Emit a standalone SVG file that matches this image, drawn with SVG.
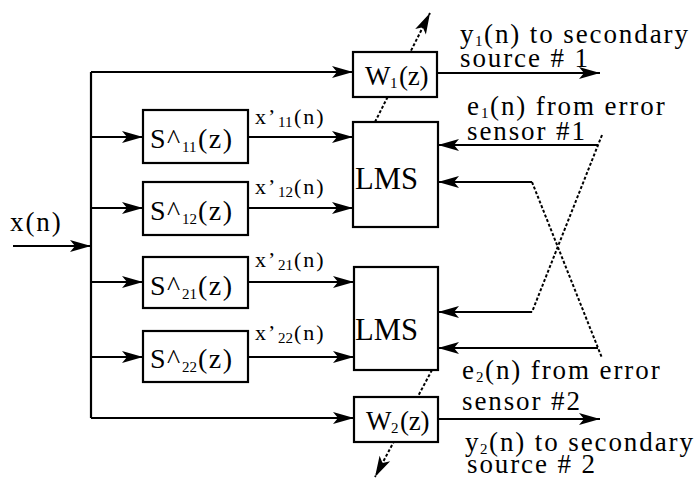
<svg xmlns="http://www.w3.org/2000/svg" width="697" height="479" viewBox="0 0 697 479">
<style>
text{font-family:"Liberation Serif","Times New Roman",serif;fill:#000}
.lbl{font-size:27px;letter-spacing:1.9px}
.sl{font-size:28px;letter-spacing:1.5px}
.xl{font-size:22px;letter-spacing:2px}
.wl{font-size:27px;letter-spacing:-0.3px}
.box{fill:#fff;stroke:#000;stroke-width:2.2}
.ln{fill:none;stroke:#000;stroke-width:2.2}
.dot{fill:none;stroke:#000;stroke-width:2;stroke-dasharray:3 2}
.sub{font-size:15px}
</style>
<defs>
<marker id="ah" markerUnits="userSpaceOnUse" markerWidth="22" markerHeight="14" refX="21" refY="7" orient="auto" overflow="visible">
<path d="M0,1 L21,7 L0,13 L5,7 z" fill="#000"/>
</marker>
</defs>
<rect width="697" height="479" fill="#fff"/>
<g id="connectors">
<line class="ln" x1="13" y1="246" x2="91" y2="246" marker-end="url(#ah)"/>
<line class="ln" x1="91" y1="72" x2="91" y2="418"/>
<line class="ln" x1="91" y1="72" x2="353" y2="72" marker-end="url(#ah)"/>
<line class="ln" x1="91" y1="137" x2="143" y2="137" marker-end="url(#ah)"/>
<line class="ln" x1="91" y1="208" x2="143" y2="208" marker-end="url(#ah)"/>
<line class="ln" x1="91" y1="282" x2="143" y2="282" marker-end="url(#ah)"/>
<line class="ln" x1="91" y1="357" x2="143" y2="357" marker-end="url(#ah)"/>
<line class="ln" x1="91" y1="418" x2="354" y2="418" marker-end="url(#ah)"/>
<line class="ln" x1="248" y1="137" x2="353" y2="137" marker-end="url(#ah)"/>
<line class="ln" x1="248" y1="208" x2="353" y2="208" marker-end="url(#ah)"/>
<line class="ln" x1="248" y1="282" x2="354" y2="282" marker-end="url(#ah)"/>
<line class="ln" x1="248" y1="357" x2="354" y2="357" marker-end="url(#ah)"/>
<line class="ln" x1="437" y1="73" x2="600" y2="73" marker-end="url(#ah)"/>
<line class="ln" x1="438" y1="419" x2="600" y2="419" marker-end="url(#ah)"/>
<line class="ln" x1="598" y1="145" x2="438" y2="145" marker-end="url(#ah)"/>
<line class="ln" x1="532" y1="182" x2="438" y2="182" marker-end="url(#ah)"/>
<line class="ln" x1="532" y1="312" x2="438" y2="312" marker-end="url(#ah)"/>
<line class="ln" x1="598" y1="348" x2="438" y2="348" marker-end="url(#ah)"/>
<line class="dot" x1="602" y1="135" x2="532" y2="312"/>
<line class="dot" x1="532" y1="182" x2="602" y2="358"/>
<line class="dot" x1="375" y1="122" x2="430" y2="13" marker-end="url(#ah)"/>
<line class="dot" x1="432" y1="370" x2="375" y2="477" marker-end="url(#ah)"/>
</g>
<g id="xn"><text class="lbl" x="10" y="231">x(n)</text></g>
<g id="s11"><rect class="box" x="143" y="110" width="105" height="53"/>
<text class="sl" x="150" y="148">S^</text><text class="sub" x="182" y="152">11</text><text class="sl" x="198" y="148">(z)</text></g>
<g id="s12"><rect class="box" x="143" y="182" width="105" height="53"/>
<text class="sl" x="150" y="220">S^</text><text class="sub" x="182" y="224">12</text><text class="sl" x="198" y="220">(z)</text></g>
<g id="s21"><rect class="box" x="143" y="257" width="105" height="51"/>
<text class="sl" x="150" y="295">S^</text><text class="sub" x="182" y="299">21</text><text class="sl" x="198" y="295">(z)</text></g>
<g id="s22"><rect class="box" x="143" y="331" width="105" height="51"/>
<text class="sl" x="150" y="368">S^</text><text class="sub" x="182" y="372">22</text><text class="sl" x="198" y="368">(z)</text></g>
<g id="xlabels">
<text class="xl" x="255" y="124">x’</text><text class="sub" x="278" y="127">11</text><text class="xl" x="294" y="124">(n)</text>
<text class="xl" x="255" y="194">x’</text><text class="sub" x="278" y="197">12</text><text class="xl" x="294" y="194">(n)</text>
<text class="xl" x="255" y="267">x’</text><text class="sub" x="278" y="270">21</text><text class="xl" x="294" y="267">(n)</text>
<text class="xl" x="255" y="340">x’</text><text class="sub" x="278" y="343">22</text><text class="xl" x="294" y="340">(n)</text>
</g>
<g id="w1"><rect class="box" x="353" y="52" width="84" height="45"/>
<text class="wl" x="365" y="85">W</text><text class="sub" x="390" y="88">1</text><text class="wl" x="399" y="85">(z)</text></g>
<g id="lms1"><rect class="box" x="353" y="122" width="85" height="105"/>
<text x="355" y="189" font-size="32" textLength="63" lengthAdjust="spacingAndGlyphs">LMS</text></g>
<g id="lms2"><rect class="box" x="354" y="267" width="84" height="103"/>
<text x="355" y="340" font-size="32" textLength="63" lengthAdjust="spacingAndGlyphs">LMS</text></g>
<g id="w2"><rect class="box" x="354" y="397" width="84" height="45"/>
<text class="wl" x="366" y="430">W</text><text class="sub" x="391" y="433">2</text><text class="wl" x="400" y="430">(z)</text></g>
<g id="labels">
<text class="lbl" x="460" y="43">y</text><text class="sub" x="475" y="46">1</text><text class="lbl" x="484" y="43">(n) to secondary</text>
<text class="lbl" x="460" y="67">source # 1</text>
<text class="lbl" x="467" y="115">e</text><text class="sub" x="481" y="118">1</text><text class="lbl" x="490" y="115">(n) from error</text>
<text class="lbl" x="467" y="140">sensor #1</text>
<text class="lbl" x="462" y="379">e</text><text class="sub" x="476" y="382">2</text><text class="lbl" x="485" y="379">(n) from error</text>
<text class="lbl" x="462" y="410">sensor #2</text>
<text class="lbl" x="465" y="451">y</text><text class="sub" x="480" y="454">2</text><text class="lbl" x="489" y="451">(n) to secondary</text>
<text class="lbl" x="467" y="473">source # 2</text>
</g>
</svg>
